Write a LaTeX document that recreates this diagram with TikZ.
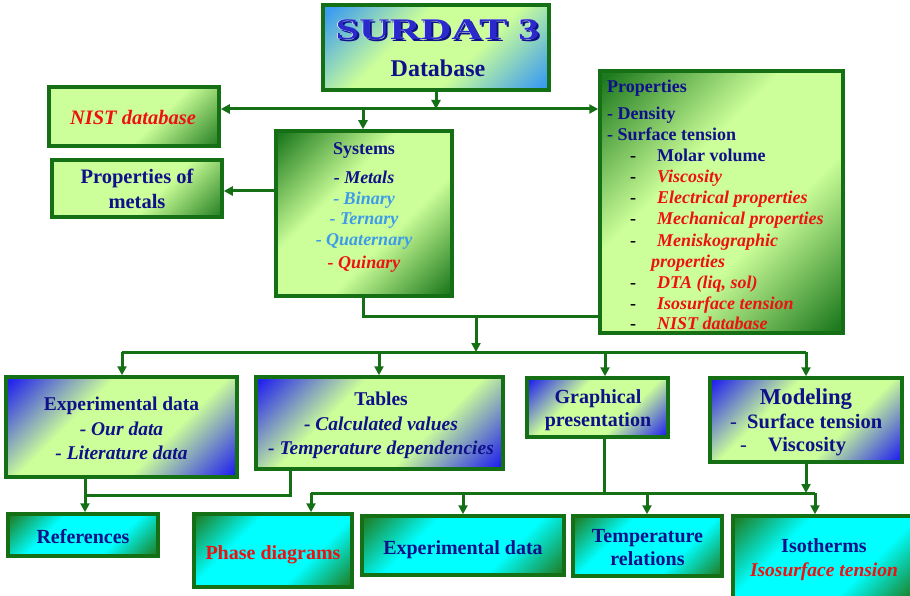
\documentclass[tikz,border=0pt]{standalone}
\usepackage{fontspec}
\setmainfont{Liberation Serif}
\newfontfamily\widefont[FakeStretch=1.42]{Liberation Serif}
\usetikzlibrary{arrows.meta}
\definecolor{bd}{HTML}{157015}
\definecolor{navy}{HTML}{10108A}
\definecolor{tred}{HTML}{EE1111}
\definecolor{lblue}{HTML}{3D9BEA}
\definecolor{lg}{HTML}{CCFF99}
\definecolor{dg}{HTML}{1E7A1E}
\definecolor{bl}{HTML}{2222EE}
\definecolor{sky}{HTML}{3C9CF0}
\definecolor{cy}{HTML}{00FFFF}
\definecolor{sdblue}{HTML}{2A2ACC}
\pgfdeclareverticalshading{shsky}{100bp}{color(0bp)=(sky); color(17bp)=(sky); color(40bp)=(lg); color(60bp)=(lg); color(83bp)=(sky); color(100bp)=(sky)}
\pgfdeclareverticalshading{shblue}{100bp}{color(0bp)=(bl); color(16bp)=(bl); color(38bp)=(lg); color(62bp)=(lg); color(84bp)=(bl); color(100bp)=(bl)}
\pgfdeclareverticalshading{shgreen}{100bp}{color(0bp)=(dg); color(16bp)=(dg); color(40bp)=(lg); color(60bp)=(lg); color(84bp)=(dg); color(100bp)=(dg)}
\pgfdeclareverticalshading{shnist}{100bp}{color(0bp)=(dg); color(14bp)=(dg); color(42bp)=(lg); color(100bp)=(lg)}
\pgfdeclareverticalshading{shcyan}{100bp}{color(0bp)=(dg); color(15bp)=(dg); color(36bp)=(cy); color(64bp)=(cy); color(85bp)=(dg); color(100bp)=(dg)}
\newcommand\fsz[1]{\fontsize{#1}{#1}\selectfont\bfseries}
\newcommand\sdword{SURDAT 3}
\tikzset{
  box/.style={draw=bd, line width=3.5pt, inner sep=0pt, shade, shading angle=45},
  conn/.style={draw=bd, line width=3pt},
  arr/.style={conn, -{Triangle[length=9pt,width=9pt]}},
  t/.style={inner sep=0pt, anchor=base},
  tw/.style={inner sep=0pt, anchor=base west},
}
\begin{document}
\begin{tikzpicture}[x=1pt,y=-1pt]
\useasboundingbox (0,0) rectangle (910,596);
% boxes
\node[box, shading=shsky, minimum width=226pt, minimum height=85pt] (surdat) at (436,47.5) {};
\node[box, shading=shnist, minimum width=170pt, minimum height=59pt] (nist) at (134,116.5) {};
\node[box, shading=shnist, minimum width=170pt, minimum height=57pt] (propmetals) at (137,188.5) {};
\node[box, shading=shgreen, minimum width=176pt, minimum height=165pt] (systems) at (364,213.5) {};
\node[box, shading=shgreen, minimum width=243pt, minimum height=262pt] (props) at (721.5,202) {};
\node[box, shading=shblue, minimum width=231pt, minimum height=100pt] (expdata) at (121.5,427) {};
\node[box, shading=shblue, minimum width=247pt, minimum height=92pt] (tables) at (379.5,423) {};
\node[box, shading=shblue, minimum width=141pt, minimum height=59pt] (graphical) at (597.5,407.5) {};
\node[box, shading=shblue, minimum width=192pt, minimum height=84pt] (modeling) at (806,420) {};
\node[box, shading=shcyan, minimum width=150pt, minimum height=42pt] (references) at (83,535) {};
\node[box, shading=shcyan, minimum width=158pt, minimum height=73pt] (phase) at (273,550.5) {};
\node[box, shading=shcyan, minimum width=202pt, minimum height=59pt] (expbot) at (463,545.5) {};
\node[box, shading=shcyan, minimum width=149pt, minimum height=60pt] (temp) at (647.5,546) {};
\node[box, shading=shcyan, minimum width=181pt, minimum height=84pt] (iso) at (823.5,558) {};
% SURDAT title (shadow, highlight and face in one node)
\node[t, font=\widefont\bfseries\fontsize{30}{30}\selectfont] (sdtitle) at (437.5,40)
  {\makebox[0pt][l]{\hspace{2pt}\raisebox{-2pt}{\textcolor{navy}{\sdword}}}\makebox[0pt][l]{\hspace{-0.7pt}\raisebox{0.8pt}{\textcolor{white}{\sdword}}}\textcolor{sdblue}{\sdword}};
\node[t, font=\fsz{24}, text=navy] (dbtext) at (438,76.7) {Database};
% NIST / properties of metals
\node[t, font=\fsz{20.5}\itshape, text=tred] (nisttext) at (133,124.3) {NIST database};
\node[t, font=\fsz{20.5}, text=navy] (pm1) at (137,184) {Properties of};
\node[t, font=\fsz{20.5}, text=navy] (pm2) at (137,208.3) {metals};
% systems
\node[t, font=\fsz{18}, text=navy] (sy0) at (364,155) {Systems};
\node[t, font=\fsz{18}\itshape, text=navy] (sy1) at (364,184) {- Metals};
\node[t, font=\fsz{18}\itshape, text=lblue] (sy2) at (364,204.5) {- Binary};
\node[t, font=\fsz{18}\itshape, text=lblue] (sy3) at (364,224.5) {- Ternary};
\node[t, font=\fsz{18}\itshape, text=lblue] (sy4) at (364,245.5) {- Quaternary};
\node[t, font=\fsz{18}\itshape, text=tred] (sy5) at (364,268.5) {- Quinary};
% properties
\node[tw, font=\fsz{18}, text=navy] (pr0) at (607,93) {Properties};
\node[tw, font=\fsz{18}, text=navy] (pr1) at (607,120) {- Density};
\node[tw, font=\fsz{18}, text=navy] (pr2) at (607,141) {- Surface tension};
\foreach \yy/\nm in {162/a,183/b,204/c,225/d,246/e,288/f,309/g,329/h}
  \node[tw, font=\fsz{18}, text=black] (prd\nm) at (630,\yy) {-};
\node[tw, font=\fsz{18}, text=navy] (pr3) at (657,162) {Molar volume};
\node[tw, font=\fsz{18}\itshape, text=tred] (pr4) at (657,183) {Viscosity};
\node[tw, font=\fsz{18}\itshape, text=tred] (pr5) at (657,204) {Electrical properties};
\node[tw, font=\fsz{18}\itshape, text=tred] (pr6) at (657,225) {Mechanical properties};
\node[tw, font=\fsz{18}\itshape, text=tred] (pr7) at (657,246) {Meniskographic};
\node[tw, font=\fsz{18}\itshape, text=tred] (pr7b) at (651,267) {properties};
\node[tw, font=\fsz{18}\itshape, text=tred] (pr8) at (657,288) {DTA (liq, sol)};
\node[tw, font=\fsz{18}\itshape, text=tred] (pr9) at (657,309) {Isosurface tension};
\node[tw, font=\fsz{18}\itshape, text=tred] (pr10) at (657,329) {NIST database};
% middle row
\node[t, font=\fsz{19.5}, text=navy] (ed0) at (121.5,410.7) {Experimental data};
\node[t, font=\fsz{19.5}\itshape, text=navy] (ed1) at (121.5,435) {- Our data};
\node[t, font=\fsz{19.5}\itshape, text=navy] (ed2) at (121.5,459.3) {- Literature data};
\node[t, font=\fsz{19.5}, text=navy] (tb0) at (381,405.7) {Tables};
\node[t, font=\fsz{19.5}\itshape, text=navy] (tb1) at (381,430) {- Calculated values};
\node[t, font=\fsz{19.5}\itshape, text=navy] (tb2) at (381,454) {- Temperature dependencies};
\node[t, font=\fsz{20}, text=navy] (gr0) at (598,403.3) {Graphical};
\node[t, font=\fsz{20}, text=navy] (gr1) at (598,426) {presentation};
\node[t, font=\fsz{22.7}, text=navy] (md0) at (806,404.3) {Modeling};
\node[tw, font=\fontsize{20.5}{20.5}\selectfont, text=navy] (md1d) at (730,428.3) {-};
\node[tw, font=\fsz{20.5}, text=navy] (md1) at (747,428.3) {Surface tension};
\node[tw, font=\fontsize{20.5}{20.5}\selectfont, text=navy] (md2d) at (740,451.7) {-};
\node[tw, font=\fsz{20.5}, text=navy] (md2) at (768,451.7) {Viscosity};
% bottom row
\node[t, font=\fsz{20}, text=navy] (rf0) at (83,543) {References};
\node[t, font=\fsz{20}, text=tred] (ph0) at (273,559.3) {Phase diagrams};
\node[t, font=\fsz{20}, text=navy] (eb0) at (463,554) {Experimental data};
\node[t, font=\fsz{20}, text=navy] (tr0) at (647.5,542.7) {Temperature};
\node[t, font=\fsz{20}, text=navy] (tr1) at (647.5,565) {relations};
\node[t, font=\fsz{20}, text=navy] (is0) at (824,552.7) {Isotherms};
\node[t, font=\fsz{19.5}\itshape, text=tred] (is1) at (824,576.7) {Isosurface tension};
% connectors
\coordinate (h1) at (436,109);
\coordinate (h1s) at (363,109);
\draw[arr] (surdat.south) -- (h1);
\draw[arr] (h1) -- (nist.east |- h1);
\draw[arr] (h1) -- (props.west |- h1);
\draw[arr] (h1s) -- (systems.north -| h1s);
\coordinate (sm) at (250,191);
\draw[arr] (systems.west |- sm) -- (propmetals.east |- sm);
\coordinate (j1) at (363,316);
\coordinate (j2) at (476,316);
\coordinate (h2) at (476,352);
\draw[conn] (systems.south -| j1) -- (j1) -- (props.west |- j1);
\draw[arr] (j2) -- (h2);
\coordinate (h2a) at (122,352);
\coordinate (h2b) at (379,352);
\coordinate (h2c) at (605,352);
\coordinate (h2d) at (806,352);
\draw[conn] (h2a) -- (h2d);
\draw[arr] (h2a) -- (expdata.north -| h2a);
\draw[arr] (h2b) -- (tables.north -| h2b);
\draw[arr] (h2c) -- (graphical.north -| h2c);
\draw[arr] (h2d) -- (modeling.north -| h2d);
\coordinate (h3a) at (85,495);
\coordinate (h3b) at (290,495);
\draw[conn] (expdata.south -| h3a) -- (h3a) -- (h3b) -- (tables.south -| h3b);
\draw[arr] (h3a) -- (references.north -| h3a);
\coordinate (h4a) at (311,493);
\coordinate (h4b) at (815,493);
\coordinate (h4g) at (604,493);
\coordinate (h4m) at (806,493);
\coordinate (h4e) at (463,493);
\coordinate (h4t) at (647,493);
\draw[conn] (h4a) -- (h4b);
\draw[conn] (graphical.south -| h4g) -- (h4g);
\draw[arr] (modeling.south -| h4m) -- (h4m);
\draw[arr] (h4a) -- (phase.north -| h4a);
\draw[arr] (h4e) -- (expbot.north -| h4e);
\draw[arr] (h4t) -- (temp.north -| h4t);
\draw[arr] (h4b) -- (iso.north -| h4b);
\end{tikzpicture}
\end{document}
